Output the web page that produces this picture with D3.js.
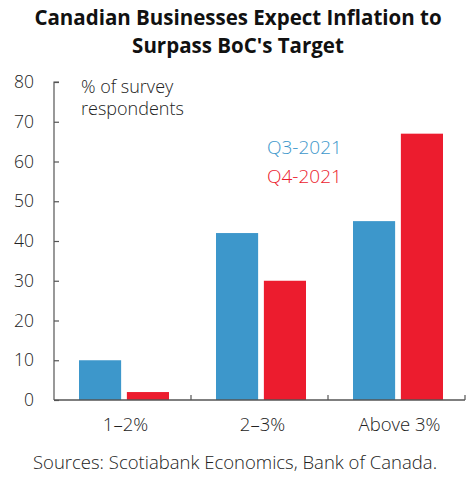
<!DOCTYPE html>
<html>
<head>
<meta charset="utf-8">
<script src="https://cdn.jsdelivr.net/npm/d3@7"></script>
<style>
  body { margin: 0; background: #fff; }
  text { font-family: "Open Sans", "Noto Sans", sans-serif; }
</style>
</head>
<body>
<script>
const categories = ["1\u20132%", "2\u20133%", "Above 3%"]
const seriesNames = ["Q3-2021", "Q4-2021"]
const q3Values = [10, 42, 45]
const q4Values = [2, 30, 67]
const yTicks = [0, 10, 20, 30, 40, 50, 60, 70, 80]

const width = 466, height = 479
const margin = { top: 82, right: 1, bottom: 79, left: 54 }
const colors = ["#3d97cb", "#ec1c2e"]

const svg = d3.select("body").append("svg")
    .attr("width", width)
    .attr("height", height)

// title
svg.append("g")
    .selectAll("text")
    .data(["Canadian Businesses Expect Inflation to", "Surpass BoC's Target"])
    .join("text")
    .attr("x", 238)
    .attr("y", (d, i) => 25 + i * 28)
    .attr("text-anchor", "middle")
    .attr("font-size", 20.5)
    .attr("font-weight", 700)
    .attr("fill", "#111")
    .text(d => d)

const x = d3.scaleBand()
    .domain(categories)
    .range([margin.left, width - margin.right])

const y = d3.scaleLinear()
    .domain([0, 80])
    .range([height - margin.bottom, margin.top])

const inner = d3.scaleBand()
    .domain(seriesNames)
    .range([25, x.bandwidth() - 22])
    .paddingInner(0.12)

const rows = categories.map((c, i) => ({ cat: c, values: [q3Values[i], q4Values[i]] }))

svg.append("g")
    .selectAll("g")
    .data(rows)
    .join("g")
    .attr("transform", d => `translate(${x(d.cat)},0)`)
    .selectAll("rect")
    .data(d => d.values.map((v, j) => ({ name: seriesNames[j], v, j })))
    .join("rect")
    .attr("x", d => inner(d.name))
    .attr("width", inner.bandwidth())
    .attr("y", d => y(d.v))
    .attr("height", d => y(0) - y(d.v))
    .attr("fill", d => colors[d.j])

// y axis, ticks pointing inward
const yAxis = svg.append("g")
    .attr("transform", `translate(${margin.left},0)`)
    .call(d3.axisRight(y).tickValues(yTicks).tickSize(5).tickFormat(""))
yAxis.select(".domain").attr("d", `M5,${y(80)}H0V${y(0)}`)
yAxis.selectAll("line, path").attr("stroke", "#555").attr("stroke-width", 1.2)

svg.append("g")
    .selectAll("text")
    .data(yTicks)
    .join("text")
    .attr("x", 34)
    .attr("y", d => y(d) + 6)
    .attr("text-anchor", "end")
    .attr("font-size", 17.5)
    .attr("font-weight", 300)
    .attr("fill", "#222")
    .text(d => d)

// x axis with separators between groups
const xAxis = svg.append("g")
    .attr("transform", `translate(0,${y(0)})`)
xAxis.append("line")
    .attr("x1", margin.left).attr("x2", width - margin.right)
    .attr("stroke", "#555").attr("stroke-width", 1.5)
xAxis.selectAll(".sep")
    .data(categories.slice(1).concat(["end"]))
    .join("line")
    .attr("x1", (d, i) => x(categories[0]) + x.step() * (i + 1))
    .attr("x2", (d, i) => x(categories[0]) + x.step() * (i + 1))
    .attr("y1", 0).attr("y2", -5)
    .attr("stroke", "#555").attr("stroke-width", 1.2)

svg.append("g")
    .selectAll("text")
    .data(categories)
    .join("text")
    .attr("x", d => x(d) + x.bandwidth() / 2 + 3)
    .attr("y", y(0) + 31)
    .attr("text-anchor", "middle")
    .attr("font-size", 18.5)
    .attr("font-weight", 300)
    .attr("fill", "#222")
    .text(d => d)

// annotation
svg.append("g")
    .selectAll("text")
    .data(["% of survey", "respondents"])
    .join("text")
    .attr("x", 81)
    .attr("y", (d, i) => 93 + i * 22)
    .attr("font-size", 18)
    .attr("font-weight", 300)
    .attr("fill", "#222")
    .text(d => d)

// legend
svg.append("g")
    .selectAll("text")
    .data(seriesNames)
    .join("text")
    .attr("x", 267)
    .attr("y", (d, i) => 154 + i * 29)
    .attr("font-size", 19)
    .attr("font-weight", 300)
    .attr("fill", (d, i) => colors[i])
    .text(d => d)

svg.append("text")
    .attr("x", 235)
    .attr("y", 469)
    .attr("text-anchor", "middle")
    .attr("font-size", 18.5)
    .attr("font-weight", 300)
    .attr("fill", "#222")
    .text("Sources: Scotiabank Economics, Bank of Canada.")
</script>
</body>
</html>
